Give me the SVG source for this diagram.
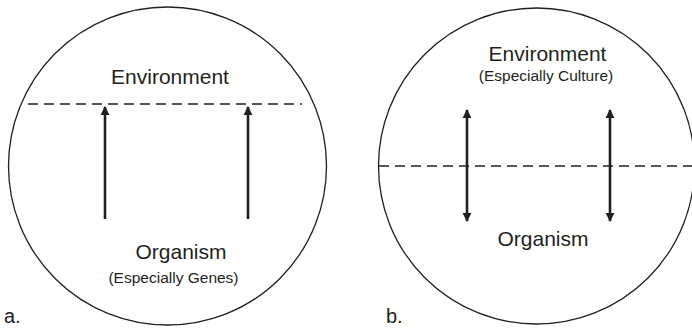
<svg xmlns="http://www.w3.org/2000/svg" width="692" height="329" viewBox="0 0 692 329">
<style>
.c{fill:none;stroke:#231f20;stroke-width:1.3}
.d{stroke:#231f20;stroke-width:1.6;stroke-dasharray:10 6;fill:none}
.a{stroke:#231f20;stroke-width:2.6;fill:none}
text{font-family:"Liberation Sans",Arial,sans-serif;fill:#231f20;text-anchor:middle}
.l{font-size:21px}
.s{font-size:15.5px}
.p{font-size:20px;text-anchor:start}
</style>
<defs>
<marker id="ah" viewBox="0 0 10 10" refX="9" refY="5" markerWidth="3.4" markerHeight="3.8" orient="auto-start-reverse" markerUnits="strokeWidth">
<path d="M0,0 L10,5 L0,10 Z" fill="#231f20"/>
</marker>
</defs>
<g id="panel-a">
<circle class="c" cx="167.5" cy="166" r="159"/>
<text class="l" x="170" y="84">Environment</text>
<text class="l" x="181" y="259">Organism</text>
<text class="s" x="173.5" y="283">(Especially Genes)</text>
<text class="p" x="4" y="323">a.</text>
</g>
<g id="panel-b">
<circle class="c" cx="536.5" cy="166" r="158"/>
<text class="l" x="547.5" y="61">Environment</text>
<text class="s" x="546" y="80.5">(Especially Culture)</text>
<text class="l" x="543" y="246">Organism</text>
<text class="p" x="386" y="323">b.</text>
</g>
<g id="connectors">
<line class="d" x1="28" y1="104" x2="302" y2="104"/>
<line class="a" x1="105" y1="219" x2="105" y2="107" marker-end="url(#ah)"/>
<line class="a" x1="248" y1="219" x2="248" y2="107" marker-end="url(#ah)"/>
<line class="d" x1="379" y1="166" x2="692" y2="166"/>
<line class="a" x1="467" y1="110" x2="467" y2="221" marker-start="url(#ah)" marker-end="url(#ah)"/>
<line class="a" x1="610" y1="110" x2="610" y2="221" marker-start="url(#ah)" marker-end="url(#ah)"/>
</g>
</svg>
